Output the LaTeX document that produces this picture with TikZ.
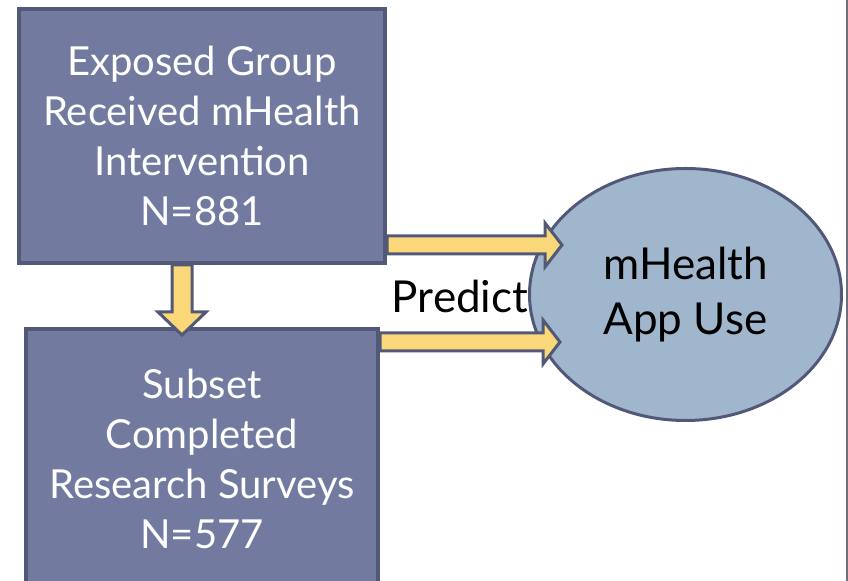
\documentclass[tikz,border=0pt]{standalone}
\usepackage{fontspec}
\setmainfont{Lato}
\usetikzlibrary{calc,shapes.geometric}
\definecolor{boxfill}{RGB}{114,122,160}
\definecolor{boxedge}{RGB}{82,89,120}
\definecolor{ellfill}{RGB}{160,182,204}
\definecolor{arrowfill}{RGB}{250,216,122}
\definecolor{sideline}{RGB}{110,112,130}
\tikzset{
  groupbox/.style={draw=boxedge, fill=boxfill, line width=2pt, text=white, align=center,
    inner sep=0pt, font=\fontsize{20}{25}\selectfont},
  outcome/.style={ellipse, draw=boxedge, fill=ellfill, line width=1.5pt, align=center,
    inner sep=0pt, font=\fontsize{22}{27.5}\selectfont},
  blockarrow/.style={draw=boxedge, fill=arrowfill, line width=1.5pt, line join=miter}
}
\newcommand\hblock[2]{\draw[blockarrow] let \p1=(#1), \p2=(#2) in
  (\x1,\y1+4.5pt) -- (\x2-8.5pt,\y1+4.5pt) -- (\x2-8.5pt,\y1+11pt) -- (\x2,\y2)
  -- (\x2-8.5pt,\y1-11pt) -- (\x2-8.5pt,\y1-4.5pt) -- (\x1,\y1-4.5pt) -- cycle;}
\newcommand\vblock[2]{\draw[blockarrow] let \p1=(#1), \p2=(#2) in
  (\x1-5pt,\y1) -- (\x1-5pt,\y2+11.5pt) -- (\x1-12pt,\y2+11.5pt) -- (\x2,\y2)
  -- (\x1+12pt,\y2+11.5pt) -- (\x1+5pt,\y2+11.5pt) -- (\x1+5pt,\y1) -- cycle;}

\begin{document}
\begin{tikzpicture}[x=0.5pt, y=-0.5pt]
			%%%%% START %%%%%
			\useasboundingbox (0,0) rectangle (848,581);
			\clip (0,0) rectangle (848,581);
			
			\draw[sideline, line width=1pt] (847,0) -- (847,581);
			
			\node[groupbox, minimum width=183pt, minimum height=127pt] (expo) at (202,136)
				{Exposed Group\\Received mHealth\\Intervention\\N=881};
			\node[groupbox, minimum width=176pt, minimum height=130pt] (subs) at (202,459)
				{Subset\\Completed\\Research Surveys\\N=577};
			\node[outcome, minimum width=156pt, minimum height=126pt] (use) at (685.5,294.5)
				{mHealth\\App Use};
			\node[font=\fontsize{22}{26}\selectfont, inner sep=0pt] (pred) at (460,296) {Predict};
			
			% arrow tips end inside the ellipse
			\coordinate (tipA) at (562,245);
			\coordinate (tipB) at (560,342);
			\coordinate (tipC) at (182,335);
			
			\hblock{expo.east |- tipA}{tipA}
			\hblock{subs.east |- tipB}{tipB}
			\vblock{expo.south -| tipC}{tipC}
			%%%%% END %%%%%
\end{tikzpicture}
\end{document}
